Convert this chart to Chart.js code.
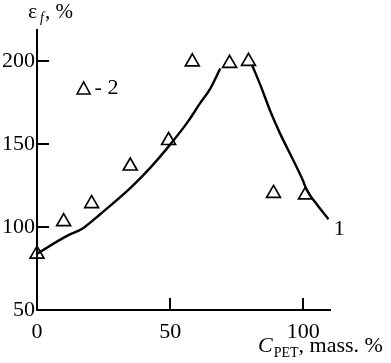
<!DOCTYPE html>
<html>
<head>
<meta charset="utf-8">
<script src="https://cdn.jsdelivr.net/npm/chart.js@4"></script>
<style>
  html, body { margin: 0; padding: 0; background: #fff; }
  #wrap { width: 391px; height: 363px; }
</style>
</head>
<body>
<div id="wrap"><canvas id="myChart"></canvas></div>
<script>
// datos
const xTicks = [0, 50, 100];
const yTicks = [50, 100, 150, 200];

// serie 2: triangulos
const pointX = [0, 10, 20.5, 35, 49.4, 58.3, 72.3, 79.4, 88.8, 100.8];
const pointY = [83.7, 103.3, 114.2, 136.9, 152.3, 199.8, 198.9, 200.1, 120.4, 119.5];

// curva 1: tramo que sube y tramo que baja
const riseX = [0, 11.1, 17.3, 23.7, 35, 42.5, 48.9, 56.8, 61.3, 65, 68.8];
const riseY = [84, 94.6, 99.4, 107.8, 123.6, 135.8, 147.7, 164, 175, 183.5, 195.8];
const fallX = [80.7, 83.8, 87.6, 91.4, 95.1, 99.6, 101.4, 105.1, 109.4];
const fallY = [198, 186, 170, 156, 144, 129, 122, 113.7, 104.8];

const serif = 'Liberation Serif';

function toXY(xs, ys) {
    return xs.map((x, i) => ({ x: x, y: ys[i] }));
}

// dibuja marcas hacia dentro, textos de ejes, leyenda y etiqueta "1"
const extras = {
    id: 'extras',
    afterDraw(chart) {
        const ctx = chart.ctx;
        const sx = chart.scales.x;
        const sy = chart.scales.y;
        const area = chart.chartArea;
        ctx.save();
        ctx.strokeStyle = '#000';
        ctx.lineWidth = 2;
        yTicks.slice(1).forEach(v => {
            const py = Math.round(sy.getPixelForValue(v));
            ctx.beginPath();
            ctx.moveTo(area.left, py);
            ctx.lineTo(area.left + 12, py);
            ctx.stroke();
        });
        xTicks.slice(1).forEach(v => {
            const px = Math.round(sx.getPixelForValue(v));
            ctx.beginPath();
            ctx.moveTo(px, area.bottom);
            ctx.lineTo(px, area.bottom - 12);
            ctx.stroke();
        });

        ctx.fillStyle = '#000';
        ctx.textBaseline = 'alphabetic';

        // titulo eje y
        ctx.font = '22px "' + serif + '"';
        ctx.fillText('\u03b5', 28, 18);
        ctx.font = 'italic 14px "' + serif + '"';
        ctx.fillText('f', 40, 22);
        ctx.font = '21px "' + serif + '"';
        ctx.fillText(', %', 45, 18);

        // titulo eje x
        let tx = 258;
        ctx.font = 'italic 22px "' + serif + '"';
        ctx.fillText('C', tx, 352);
        tx += ctx.measureText('C').width + 1;
        ctx.font = '14px "' + serif + '"';
        ctx.fillText('PET', tx, 357);
        tx += ctx.measureText('PET').width;
        ctx.font = '22px "' + serif + '"';
        ctx.fillText(', mass. %', tx, 352);

        // etiqueta de la curva
        ctx.font = '22px "' + serif + '"';
        ctx.textAlign = 'center';
        ctx.textBaseline = 'middle';
        ctx.fillText('1', sx.getPixelForValue(113.5), sy.getPixelForValue(98.8));

        // leyenda "triangulo - 2"
        const lx = sx.getPixelForValue(17.5);
        const ly = sy.getPixelForValue(183.7);
        ctx.lineWidth = 1.6;
        ctx.beginPath();
        ctx.moveTo(lx, ly - 6.5);
        ctx.lineTo(lx + 6.5, ly + 5.5);
        ctx.lineTo(lx - 6.5, ly + 5.5);
        ctx.closePath();
        ctx.stroke();
        ctx.textAlign = 'left';
        ctx.fillText('- 2', lx + 11, ly);
        ctx.restore();
    }
};

new Chart(document.getElementById('myChart'), {
    type: 'line',
    data: {
        datasets: [
            {
                label: '1',
                data: toXY(riseX, riseY),
                borderColor: '#000',
                borderWidth: 2.4,
                pointRadius: 0,
                cubicInterpolationMode: 'monotone',
                fill: false
            },
            {
                label: '1b',
                data: toXY(fallX, fallY),
                borderColor: '#000',
                borderWidth: 2.4,
                pointRadius: 0,
                cubicInterpolationMode: 'monotone',
                fill: false
            },
            {
                label: '2',
                data: toXY(pointX, pointY),
                showLine: false,
                pointStyle: 'triangle',
                pointRadius: 8,
                pointBorderWidth: 1.7,
                pointBorderColor: '#000',
                pointBackgroundColor: 'rgba(0,0,0,0)',
                clip: false
            }
        ]
    },
    options: {
        responsive: true,
        maintainAspectRatio: false,
        animation: false,
        layout: { padding: { top: 30, right: 61, left: 0, bottom: 0 } },
        plugins: {
            legend: { display: false },
            tooltip: { enabled: false }
        },
        scales: {
            x: {
                type: 'linear',
                min: 0,
                max: 110,
                afterBuildTicks: s => { s.ticks = xTicks.map(v => ({ value: v })); },
                afterFit: s => { s.height = 53; },
                grid: { display: false, drawTicks: false },
                border: { color: '#000', width: 2 },
                ticks: {
                    color: '#000',
                    padding: 9,
                    maxRotation: 0,
                    font: { family: serif, size: 22 }
                }
            },
            y: {
                type: 'linear',
                min: 50,
                max: 219,
                afterBuildTicks: s => { s.ticks = yTicks.map(v => ({ value: v })); },
                afterFit: s => { s.width = 37; },
                grid: { display: false, drawTicks: false },
                border: { color: '#000', width: 2 },
                ticks: {
                    color: '#000',
                    padding: 2,
                    font: { family: serif, size: 22 }
                }
            }
        }
    },
    plugins: [extras]
});
</script>
</body>
</html>
